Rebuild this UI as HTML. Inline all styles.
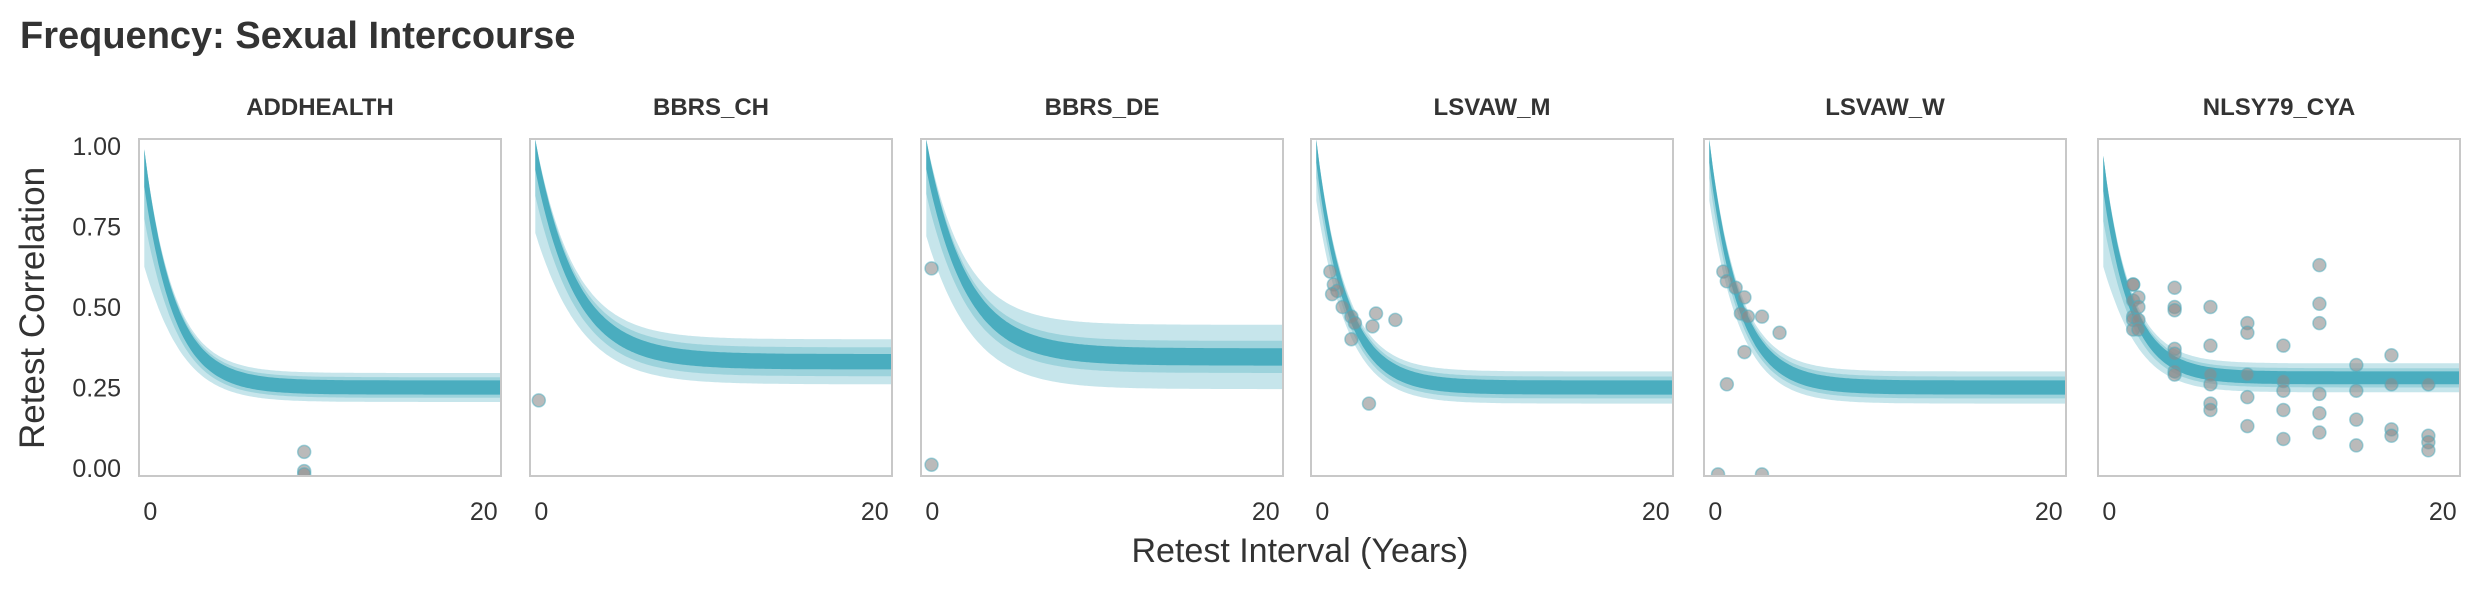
<!DOCTYPE html>
<html><head><meta charset="utf-8"><style>
body{margin:0;background:#fff}
svg text{font-family:"Liberation Sans Narrow","Liberation Sans",sans-serif;fill:#333}
</style></head><body>
<svg id="chart" width="2480" height="590" xmlns="http://www.w3.org/2000/svg">
<text x="20" y="48" font-size="38" font-weight="bold">Frequency: Sexual Intercourse</text>
<text transform="translate(44,308) rotate(-90)" text-anchor="middle" font-size="35">Retest Correlation</text>
<text x="1300" y="562" text-anchor="middle" font-size="34">Retest Interval (Years)</text>
</svg>
<script>
const panelNames = ["ADDHEALTH","BBRS_CH","BBRS_DE","LSVAW_M","LSVAW_W","NLSY79_CYA"];
const asymptote = [0.25,0.33,0.345,0.25,0.25,0.28];
const startVal = [0.97,1.0,1.0,1.0,1.0,0.95];
const decayRate = [0.6,0.45,0.45,0.6,0.6,0.65];
const innerHalf = [0.022,0.024,0.027,0.022,0.022,0.02];
const midHalf = [0.032,0.045,0.05,0.034,0.034,0.03];
const outerHalf = [0.045,0.07,0.1,0.05,0.05,0.045];
const startSpread = [0.3,0.2,0.18,0.12,0.12,0.28];
const yTicks = [0,0.25,0.5,0.75,1.0];
const yTickLabels = ["0.00","0.25","0.50","0.75","1.00"];
const xTicks = [0,20];
const pointsX = [
 [9.1,9.1,9.1],
 [0.2],
 [0.3,0.3],
 [0.8,1.0,1.2,0.9,2.0,2.2,2.0,3.4,3.2,4.5,3.0,1.5],
 [0.8,1.0,1.5,2.0,1.8,2.2,3.0,2.0,4.0,1.0,0.5,3.0],
 [1.7,1.7,1.7,1.7,1.7,1.7,2.0,2.0,2.0,2.0,4.06,4.06,4.06,4.06,4.06,4.06,4.06,6.1,6.1,6.1,6.1,6.1,6.1,8.2,8.2,8.2,8.2,8.2,10.25,10.25,10.25,10.25,10.25,12.3,12.3,12.3,12.3,12.3,12.3,14.4,14.4,14.4,14.4,16.4,16.4,16.4,16.4,18.5,18.5,18.5,18.5]
];
const pointsY = [
 [0.05,-0.01,-0.02],
 [0.21],
 [0.62,0.01],
 [0.61,0.57,0.55,0.54,0.47,0.45,0.40,0.48,0.44,0.46,0.20,0.50],
 [0.61,0.58,0.56,0.53,0.48,0.47,0.47,0.36,0.42,0.26,-0.02,-0.02],
 [0.57,0.57,0.52,0.47,0.46,0.43,0.53,0.50,0.46,0.43,0.56,0.50,0.49,0.37,0.355,0.30,0.29,0.50,0.38,0.29,0.26,0.20,0.18,0.45,0.42,0.29,0.22,0.13,0.38,0.27,0.24,0.18,0.09,0.63,0.51,0.45,0.23,0.17,0.11,0.32,0.24,0.15,0.07,0.35,0.26,0.12,0.10,0.26,0.10,0.08,0.055]
];
const svg=document.getElementById('chart');
const NS="http://www.w3.org/2000/svg";
const lefts=[139,530,921,1311,1704,2098], W=362, TOP=139, H=337;
const xMin=-0.3,xMax=20.3,yMin=-0.025,yMax=1.022;
function mk(t,a){const e=document.createElementNS(NS,t);for(const k in a)e.setAttribute(k,a[k]);return e;}
panelNames.forEach((name,i)=>{
 const L=lefts[i];
 const xs=v=>L+(v-xMin)/(xMax-xMin)*W;
 const ys=v=>TOP+H-(v-yMin)/(yMax-yMin)*H;
 const g=mk('g',{});
 
 
 svg.appendChild(g);
 const clipId='clip'+i;
 const cp=mk('clipPath',{id:clipId});cp.appendChild(mk('rect',{x:L,y:TOP,width:W,height:H}));g.appendChild(cp);
 const t=mk('text',{x:L+W/2,y:115,'text-anchor':'middle','font-size':24,'font-weight':'bold'});
 
 
 t.textContent=name;g.appendChild(t);
 const a=asymptote[i],s=startVal[i],k=decayRate[i];
 const center=x=>a+(s-a)*Math.exp(-k*x);
 function band(h,spreadF){
  let up=[],lo=[];
  for(let n=0;n<=200;n++){const x=n/200*20.3;const e=Math.exp(-k*x*0.8);const e2=Math.exp(-k*x*1.4);
   const c=center(x);
   up.push([xs(x),ys(Math.min(c+h*(1-e)+0.02*e,1.02))]);
   lo.push([xs(x),ys(c-h-startSpread[i]*spreadF*e2)]);}
  const pts=up.concat(lo.reverse());
  return 'M'+pts.map(p=>p[0].toFixed(1)+','+p[1].toFixed(1)).join('L')+'Z';
 }
 const bg=mk('g',{'clip-path':`url(#${clipId})`});g.appendChild(bg);
 [[outerHalf[i],1,'#c6e5eb'],[midHalf[i],0.55,'#9dd3dc'],[innerHalf[i],0.25,'#4aadbf']].forEach((b,j)=>{
  const p=mk('path',{d:band(b[0],b[1]),fill:b[2]});
  
  
  bg.appendChild(p);
 });
 pointsX[i].forEach((px,j)=>{
  const c=mk('circle',{cx:xs(px),cy:ys(pointsY[i][j]),r:6.5,fill:'rgba(140,140,140,0.6)',stroke:'rgba(75,173,191,0.5)','stroke-width':1.5});
  
  
  bg.appendChild(c);
 });
 const fr=mk('rect',{x:L,y:TOP,width:W,height:H,fill:'none',stroke:'#c8c8c8','stroke-width':2});
 
 
 g.appendChild(fr);
 if(i===0){yTicks.forEach((v,j)=>{const tt=mk('text',{x:L-18,y:ys(v)+9,'text-anchor':'end','font-size':25});
  
  
  tt.textContent=yTickLabels[j];g.appendChild(tt);});}
 xTicks.forEach(v=>{const tt=mk('text',{x:xs(v)+(v===0?6:-12),y:520,'text-anchor':'middle','font-size':25});
  
  
  tt.textContent=String(v);g.appendChild(tt);});
});
</script>
</body></html>
